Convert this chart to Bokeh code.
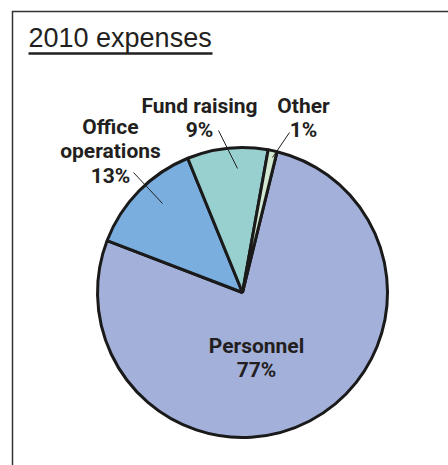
import math
from bokeh.plotting import figure
from bokeh.models import Range1d
from bokeh.core.properties import value
from bokeh.embed import file_html
from bokeh.resources import INLINE

# ---- data ----
categories = ["Personnel", "Office operations", "Fund raising", "Other"]
shares = [77, 13, 9, 1]
label_lines = [["Personnel", "77%"], ["Office", "operations", "13%"], ["Fund raising", "9%"], ["Other", "1%"]]
colors = ["#A3B0DA", "#79AEDF", "#98D0CF", "#D3E8D2"]
title_text = "2010 expenses"

# ---- layout (pixels, image coords converted) ----
W, H = 448, 465
def X(px): return px
def Y(py): return H - py
TXT_SHIFT = -8  # empirical baseline correction for text glyphs

cx, cy, R = X(242), Y(292), 145
start_cw_deg = 13.8  # clockwise from 12 o'clock where first slice starts

p = figure(width=W, height=H, x_range=Range1d(0, W), y_range=Range1d(0, H),
           output_backend="svg", toolbar_location=None, min_border=0)
p.axis.visible = False
p.grid.visible = False
p.outline_line_color = None
p.background_fill_color = "white"

# frame (top and left edges visible, meeting at the corner)
p.line(x=[X(12), X(12), X(W)], y=[Y(H), Y(11), Y(11)], line_color="#333333",
       line_width=1.5, line_join="miter")

# title + underline
p.text(x=[X(28)], y=[Y(45 + TXT_SHIFT)], text=[title_text], text_font=value("Liberation Sans"),
       text_font_size="27px", text_color="#231F20", text_baseline="alphabetic")
p.line(x=[X(28), X(212)], y=[Y(53), Y(53)], line_color="#231F20", line_width=2.5)

# pie
total = sum(shares)
cum = start_cw_deg
starts, ends = [], []
for s in shares:
    a0 = cum
    a1 = cum + 360.0 * s / total
    starts.append(math.radians(90 - a0))
    ends.append(math.radians(90 - a1))
    cum = a1

p.wedge(x=cx, y=cy, radius=R, start_angle=starts, end_angle=ends, direction="clock",
        fill_color=colors, line_color="#1a1a1a", line_width=3)

# labels: (center x, first baseline y) in image px
label_pos = [(256, 353), (110, 134), (199, 113), (303, 113)]
leaders = {1: ((162, 203), (133, 172)), 2: ((237, 168), (218, 130)), 3: ((272, 157), (289, 132))}
lh = 24.5
for i, lines in enumerate(label_lines):
    lx, ly = label_pos[i]
    xs = [X(lx)] * len(lines)
    ys = [Y(ly + TXT_SHIFT + k * lh) for k in range(len(lines))]
    p.text(x=xs, y=ys, text=lines, text_font=value("Roboto"),
           text_font_style="bold", text_font_size="21px", text_color="#231F20",
           text_align="center", text_baseline="alphabetic")
for i, (a, b) in leaders.items():
    p.line(x=[X(a[0]), X(b[0])], y=[Y(a[1]), Y(b[1])], line_color="#231F20", line_width=1)

open("out.html", "w").write(file_html(p, INLINE))
